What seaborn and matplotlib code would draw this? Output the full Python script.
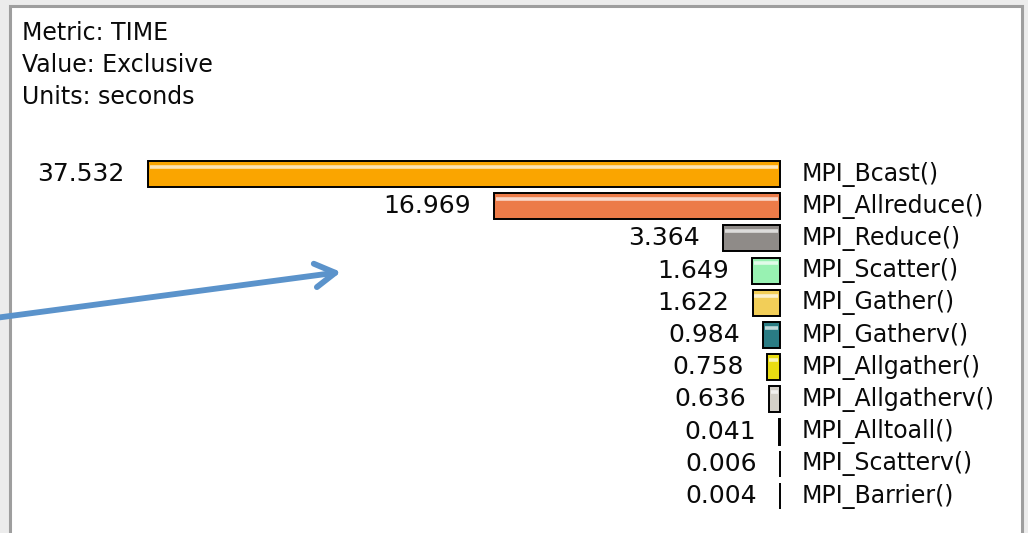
import numpy as np
import pandas as pd
import seaborn as sns
import matplotlib.pyplot as plt
from matplotlib.colors import to_rgb
from matplotlib.patches import Rectangle

# data
functions = ['MPI_Bcast()', 'MPI_Allreduce()', 'MPI_Reduce()', 'MPI_Scatter()',
             'MPI_Gather()', 'MPI_Gatherv()', 'MPI_Allgather()', 'MPI_Allgatherv()',
             'MPI_Alltoall()', 'MPI_Scatterv()', 'MPI_Barrier()']
seconds = [37.532, 16.969, 3.364, 1.649, 1.622, 0.984, 0.758, 0.636, 0.041, 0.006, 0.004]
colors = ['#FAA500', '#EC7B48', '#8F8B88', '#98F2B2', '#F2CE58', '#2A7C84',
          '#E9DC12', '#D4D0C8', '#000000', '#000000', '#000000']
header = ['Metric: TIME', 'Value: Exclusive', 'Units: seconds']

df = pd.DataFrame({'func': functions, 'sec': seconds})

sns.set_style('white')
plt.rcParams['font.family'] = ['DejaVu Sans']

fig = plt.figure(figsize=(10.28, 5.33), dpi=100)

# window frame
fig.patches.append(Rectangle((0, 0), 1028, 533, transform=None, facecolor='#ECECEC', edgecolor='none', zorder=-3))
fig.patches.append(Rectangle((10, -10), 1012, 537, transform=None, facecolor='white',
                             edgecolor='#9E9E9E', linewidth=2.2, zorder=-2))

ax = fig.add_axes([0, 0, 1, 1])
ax.patch.set_alpha(0)
sns.barplot(data=df, x='sec', y='func', hue='func', palette=colors, legend=False,
            orient='h', width=0.81, edgecolor='black', linewidth=1.4, saturation=1, ax=ax)

# glossy highlight stripe near the top of each bar
for p, c in zip(ax.patches, colors):
    if p.get_width() < 0.3:
        continue
    light = tuple(np.array(to_rgb(c)) * 0.3 + 0.7)
    y0 = p.get_y() + p.get_height() * 0.22
    ax.hlines(y0, p.get_x() + 0.1, p.get_x() + p.get_width() - 0.1, color=light, linewidth=2.6, zorder=5)

ax.set_xlim(46.32, -14.73)
ax.set_ylim(11.149, -5.404)
ax.axis('off')

for i, (f, v) in enumerate(zip(functions, seconds)):
    ax.text(v + 1.37, i, f'{v:.3f}', ha='right', va='center', fontsize=18, color='#0A0A0A')
    ax.text(-1.31, i, f, ha='left', va='center', fontsize=17, color='#0A0A0A')

for j, line in enumerate(header):
    fig.text(22 / 1028, 1 - (33 + 32 * j) / 533, line, ha='left', va='center', fontsize=17, color='#0A0A0A')

ax.annotate('', xy=(341, 533 - 272), xytext=(-5, 533 - 318),
            xycoords='figure pixels', textcoords='figure pixels',
            arrowprops=dict(arrowstyle='->,head_length=1.45,head_width=0.85', color='#5B93CB',
                            lw=4.2, shrinkA=0, shrinkB=0, capstyle='round', joinstyle='round'))

fig.savefig('out.png', dpi=100)
